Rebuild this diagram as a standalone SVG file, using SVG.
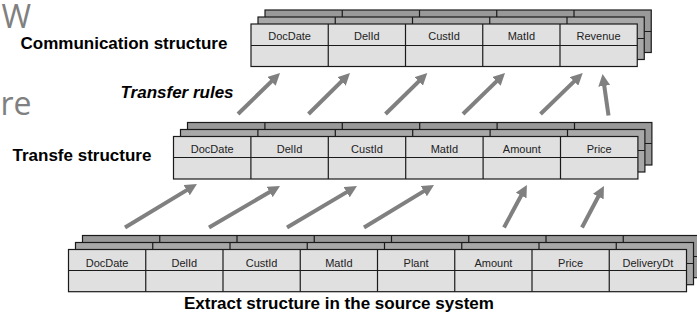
<svg xmlns="http://www.w3.org/2000/svg" xmlns:xlink="http://www.w3.org/1999/xlink" width="697" height="323" viewBox="0 0 697 323">
<style>
.cell{font-family:"Liberation Sans",Arial,sans-serif;font-size:11px;fill:#222;text-anchor:middle}
.title{font-family:"Liberation Sans",Arial,sans-serif;font-size:17px;font-weight:bold;fill:#000}
.italic{font-style:italic}
.bg{font-family:"Open Sans",sans-serif;font-size:32px;fill:#808080}
.arrow{stroke:#808080;stroke-width:4;fill:none;marker-end:url(#ah)}
</style>
<defs>
<marker id="ah" markerUnits="userSpaceOnUse" markerWidth="12" markerHeight="12" refX="4" refY="6" orient="auto" viewBox="0 0 12 12"><path d="M0,0 L12,6 L0,12 z" fill="#808080"/></marker>
<g id="t5" stroke="#1a1a1a" stroke-width="1.2">
<rect x="0" y="0" width="386.25" height="42.5"/>
<line x1="0" y1="21.5" x2="386.25" y2="21.5"/>
<line x1="77.25" y1="0" x2="77.25" y2="42.5"/>
<line x1="154.5" y1="0" x2="154.5" y2="42.5"/>
<line x1="231.75" y1="0" x2="231.75" y2="42.5"/>
<line x1="309" y1="0" x2="309" y2="42.5"/>
</g>
<g id="t6" stroke="#1a1a1a" stroke-width="1.2">
<rect x="0" y="0" width="464.4" height="42.5"/>
<line x1="0" y1="21" x2="464.4" y2="21"/>
<line x1="77.4" y1="0" x2="77.4" y2="42.5"/>
<line x1="154.8" y1="0" x2="154.8" y2="42.5"/>
<line x1="232.2" y1="0" x2="232.2" y2="42.5"/>
<line x1="309.6" y1="0" x2="309.6" y2="42.5"/>
<line x1="387" y1="0" x2="387" y2="42.5"/>
</g>
<g id="t8" stroke="#1a1a1a" stroke-width="1.2">
<rect x="0" y="0" width="618" height="42.2"/>
<line x1="0" y1="21" x2="618" y2="21"/>
<line x1="77.25" y1="0" x2="77.25" y2="42.2"/>
<line x1="154.5" y1="0" x2="154.5" y2="42.2"/>
<line x1="231.75" y1="0" x2="231.75" y2="42.2"/>
<line x1="309" y1="0" x2="309" y2="42.2"/>
<line x1="386.25" y1="0" x2="386.25" y2="42.2"/>
<line x1="463.5" y1="0" x2="463.5" y2="42.2"/>
<line x1="540.75" y1="0" x2="540.75" y2="42.2"/>
</g>
</defs>

<g id="background-text">
<text class="bg" x="1.5" y="28.3">W</text>
<text class="bg" x="0.5" y="115" font-size="30">re</text>
</g>

<g id="labels">
<text class="title" x="20.5" y="49.3">Communication structure</text>
<text class="title italic" x="120.5" y="97.7">Transfer rules</text>
<text class="title" x="12.5" y="161">Transfe structure</text>
<text class="title" x="184" y="309">Extract structure in the source system</text>
</g>

<g id="communication-structure" transform="translate(251,24)">
<use xlink:href="#t5" x="14" y="-14" fill="#999999"/>
<use xlink:href="#t5" x="7" y="-7" fill="#a8a8a8"/>
<use xlink:href="#t5" fill="#e0e0e0"/>
<text class="cell" x="38.6" y="16">DocDate</text>
<text class="cell" x="115.9" y="16">DelId</text>
<text class="cell" x="193.1" y="16">CustId</text>
<text class="cell" x="270.4" y="16">MatId</text>
<text class="cell" x="347.6" y="16">Revenue</text>
</g>

<g id="transfer-structure" transform="translate(173.5,136.5)">
<use xlink:href="#t6" x="14" y="-14" fill="#999999"/>
<use xlink:href="#t6" x="7" y="-7" fill="#a8a8a8"/>
<use xlink:href="#t6" fill="#e0e0e0"/>
<text class="cell" x="38.7" y="16.5">DocDate</text>
<text class="cell" x="116.1" y="16.5">DelId</text>
<text class="cell" x="193.5" y="16.5">CustId</text>
<text class="cell" x="270.9" y="16.5">MatId</text>
<text class="cell" x="348.3" y="16.5">Amount</text>
<text class="cell" x="425.7" y="16.5">Price</text>
</g>

<g id="extract-structure" transform="translate(68.5,249.5)">
<use xlink:href="#t8" x="14" y="-14" fill="#999999"/>
<use xlink:href="#t8" x="7" y="-7" fill="#a8a8a8"/>
<use xlink:href="#t8" fill="#e0e0e0"/>
<text class="cell" x="38.6" y="17">DocDate</text>
<text class="cell" x="115.9" y="17">DelId</text>
<text class="cell" x="193.1" y="17">CustId</text>
<text class="cell" x="270.4" y="17">MatId</text>
<text class="cell" x="347.6" y="17">Plant</text>
<text class="cell" x="424.9" y="17">Amount</text>
<text class="cell" x="502.1" y="17">Price</text>
<text class="cell" x="579.4" y="17">DeliveryDt</text>
</g>

<g id="connectors">
<line class="arrow" x1="125" y1="227.5" x2="190.1" y2="188.1"/>
<line class="arrow" x1="209" y1="227.5" x2="273.1" y2="190"/>
<line class="arrow" x1="287" y1="227.5" x2="350.1" y2="190.1"/>
<line class="arrow" x1="364" y1="227.5" x2="427.2" y2="189.1"/>
<line class="arrow" x1="504" y1="227.5" x2="523.1" y2="192"/>
<line class="arrow" x1="582" y1="227.5" x2="600.2" y2="193"/>
<line class="arrow" x1="238" y1="114" x2="274.3" y2="78.6"/>
<line class="arrow" x1="308.5" y1="114" x2="344.3" y2="78.6"/>
<line class="arrow" x1="385.5" y1="114" x2="421.6" y2="78.6"/>
<line class="arrow" x1="463" y1="114" x2="499.3" y2="78.6"/>
<line class="arrow" x1="540.5" y1="114" x2="577" y2="78.6"/>
<line class="arrow" x1="608.5" y1="115.5" x2="603.7" y2="81.9"/>
</g>
</svg>
